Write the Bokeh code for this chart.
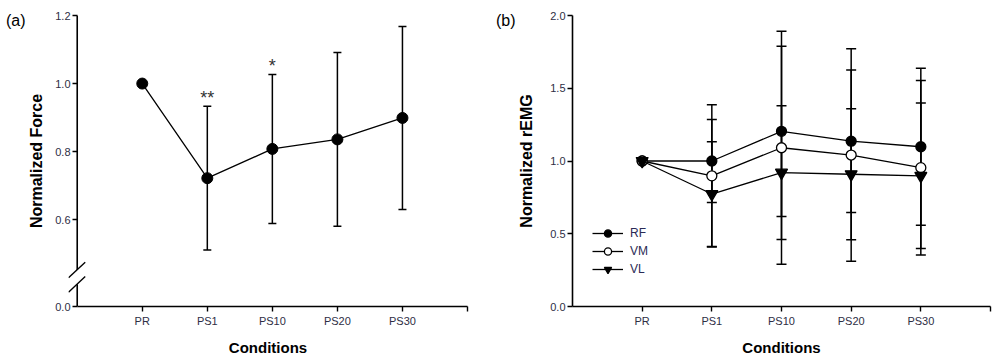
from bokeh.plotting import figure
from bokeh.layouts import row
from bokeh.models import (Range1d, FixedTicker, Whisker, TeeHead, ColumnDataSource,
                          Legend, LegendItem, LinearAxis)
from bokeh.core.properties import value
from bokeh.embed import file_html
from bokeh.resources import INLINE

# ---------------- data ----------------
conditions = ["PR", "PS1", "PS10", "PS20", "PS30"]

force_mean = [1.0, 0.722, 0.808, 0.836, 0.899]
force_sd = [0.0, 0.211, 0.219, 0.255, 0.269]
force_sig = ["", "**", "*", "", ""]

rf_mean = [1.0, 1.0, 1.204, 1.136, 1.098]
rf_sd = [0.0, 0.285, 0.585, 0.49, 0.54]
vm_mean = [1.0, 0.898, 1.091, 1.041, 0.954]
vm_sd = [0.0, 0.489, 0.80, 0.73, 0.60]
vl_mean = [1.0, 0.773, 0.920, 0.909, 0.898]
vl_sd = [0.0, 0.36, 0.46, 0.45, 0.50]

left_yticks = [0.345, 0.6, 0.8, 1.0, 1.2]
left_ylabels = ["0.0", "0.6", "0.8", "1.0", "1.2"]
right_yticks = [0.0, 0.5, 1.0, 1.5, 2.0]
right_ylabels = ["0.0", "0.5", "1.0", "1.5", "2.0"]

# ---------------- style ----------------
FONT = "Liberation Sans"
TICK_COLOR = "#2e2e44"
xpos = list(range(1, len(conditions) + 1))
xticks = xpos + [len(conditions) + 1]
xlabels = {t: (conditions[t - 1] if t <= len(conditions) else "") for t in xticks}


def style_axes(p, yticks, ylabels, ylab, xlab, ystand):
    p.xaxis.ticker = FixedTicker(ticks=xticks)
    p.xaxis.major_label_overrides = xlabels
    p.yaxis.ticker = FixedTicker(ticks=yticks)
    p.yaxis.major_label_overrides = {t: l for t, l in zip(yticks, ylabels)}
    for ax in (p.xaxis[0], p.yaxis[0]):
        ax.axis_line_width = 1.6
        ax.axis_line_color = "black"
        ax.major_tick_line_width = 1.4
        ax.major_tick_line_color = "black"
        ax.major_tick_out = 5
        ax.major_tick_in = 0
        ax.minor_tick_line_color = None
        ax.major_label_text_font = FONT
        ax.major_label_text_color = TICK_COLOR
        ax.major_label_text_font_size = "11px"
        ax.axis_label_text_font = FONT
        ax.axis_label_text_font_style = "bold"
        ax.axis_label_text_color = "black"
    p.xaxis.axis_label_text_font_size = "15px"
    p.yaxis.axis_label_text_font_size = "16px"
    p.xaxis.major_label_standoff = 3
    p.yaxis.major_label_standoff = 2
    p.xaxis.axis_label = xlab
    p.yaxis.axis_label = ylab
    p.xaxis.axis_label_standoff = 9
    p.yaxis.axis_label_standoff = ystand
    p.xaxis.bounds = (0, xticks[-1])
    p.xgrid.grid_line_color = None
    p.ygrid.grid_line_color = None
    p.outline_line_color = None


def add_panel_tag(p, text, yval, standoff):
    # panel letter drawn as the single tick label of a bare outer axis
    tag = LinearAxis(ticker=FixedTicker(ticks=[yval]),
                     major_label_overrides={yval: text},
                     axis_line_color=None, major_tick_line_color=None,
                     minor_tick_line_color=None, major_tick_out=0,
                     major_tick_in=0, major_label_standoff=standoff,
                     major_label_text_font=FONT,
                     major_label_text_font_size="16px",
                     major_label_text_color="black")
    p.add_layout(tag, "left")


def add_whiskers(p, mean, sd, head):
    xs = [x for x, s in zip(xpos, sd) if s > 0]
    up = [m + s for m, s in zip(mean, sd) if s > 0]
    lo = [m - s for m, s in zip(mean, sd) if s > 0]
    src = ColumnDataSource(dict(x=xs, upper=up, lower=lo))
    w = Whisker(source=src, base="x", upper="upper", lower="lower",
                line_width=1.5, line_color="black",
                upper_head=TeeHead(size=head, line_width=1.5, line_color="black"),
                lower_head=TeeHead(size=head, line_width=1.5, line_color="black"))
    p.add_layout(w)


# ---------------- panel (a) ----------------
BREAK_X = 0.134          # half-width of the axis-break slashes, in x units
BREAK_PX = 9             # the same, in pixels (frame edge -> y-axis rule)
p1 = figure(width=490, height=358, x_range=Range1d(-BREAK_X, 6),
            y_range=Range1d(left_yticks[0], left_yticks[-1]),
            output_backend="svg", toolbar_location=None,
            min_border_left=68, min_border_right=23,
            min_border_top=15, min_border_bottom=52)
p1.background_fill_color = "white"
style_axes(p1, left_yticks, left_ylabels, "Normalized Force", "Conditions", 7)
# the y rule sits at x=0, BREAK_PX inside the frame edge: shift the ticks
yax = p1.yaxis[0]
yax.axis_line_color = None
yax.major_tick_in = BREAK_PX
yax.major_tick_out = 5 - BREAK_PX
yax.major_label_standoff = 2 - (BREAK_PX - 5)
add_panel_tag(p1, "(a)", 1.185, 0)

# y-axis rule with a break (gap between the two slashes)
gap_lo, gap_hi = 0.4101, 0.4523
p1.segment(x0=[0, 0], y0=[left_yticks[0], gap_hi], x1=[0, 0],
           y1=[gap_lo, left_yticks[-1]], line_color="black", line_width=1.6)
p1.segment(x0=[-BREAK_X, -BREAK_X], y0=[0.4294, 0.3871],
           x1=[0.123, 0.123], y1=[0.4753, 0.4333],
           line_color="black", line_width=1.4)

add_whiskers(p1, force_mean, force_sd, 8)
p1.line(xpos, force_mean, line_color="black", line_width=1.3)
p1.scatter(xpos, force_mean, marker="circle", size=11, color="black")

sig_src = ColumnDataSource(dict(
    x=xpos, y=[m + s for m, s in zip(force_mean, force_sd)], t=force_sig))
p1.text(x="x", y="y", text="t", source=sig_src, text_align="center",
        text_baseline="alphabetic", y_offset=-8, text_font=value(FONT),
        text_font_size="18px", text_color="#333333")

# ---------------- panel (b) ----------------
p2 = figure(width=508, height=358, x_range=Range1d(0, 6),
            y_range=Range1d(right_yticks[0], right_yticks[-1]),
            output_backend="svg", toolbar_location=None,
            min_border_left=82, min_border_right=8,
            min_border_top=15, min_border_bottom=52)
p2.background_fill_color = "white"
style_axes(p2, right_yticks, right_ylabels, "Normalized rEMG", "Conditions", 12)
add_panel_tag(p2, "(b)", 1.966, 0)

for mean, sd in ((rf_mean, rf_sd), (vm_mean, vm_sd), (vl_mean, vl_sd)):
    add_whiskers(p2, mean, sd, 10)

items = []
specs = [("RF", rf_mean, "circle", "black", 10),
         ("VM", vm_mean, "circle", "white", 10),
         ("VL", vl_mean, "inverted_triangle", "black", 12)]
for name, mean, marker, fill, size in specs:
    ln = p2.line(xpos, mean, line_color="black", line_width=1.3)
    sc = p2.scatter(xpos, mean, marker=marker, size=size, fill_color=fill,
                    line_color="black", line_width=1.3)
    items.append(LegendItem(label=name, renderers=[ln, sc]))

legend = Legend(items=items, location=(20, 28), padding=0, margin=0,
                spacing=0, glyph_width=31, glyph_height=18, label_height=18,
                label_standoff=7, border_line_color=None,
                background_fill_alpha=0, label_text_font=FONT,
                label_text_font_size="12px", label_text_color="#2a2a55")
p2.add_layout(legend)

layout = row(p1, p2)
open("out.html", "w").write(file_html(layout, INLINE))
